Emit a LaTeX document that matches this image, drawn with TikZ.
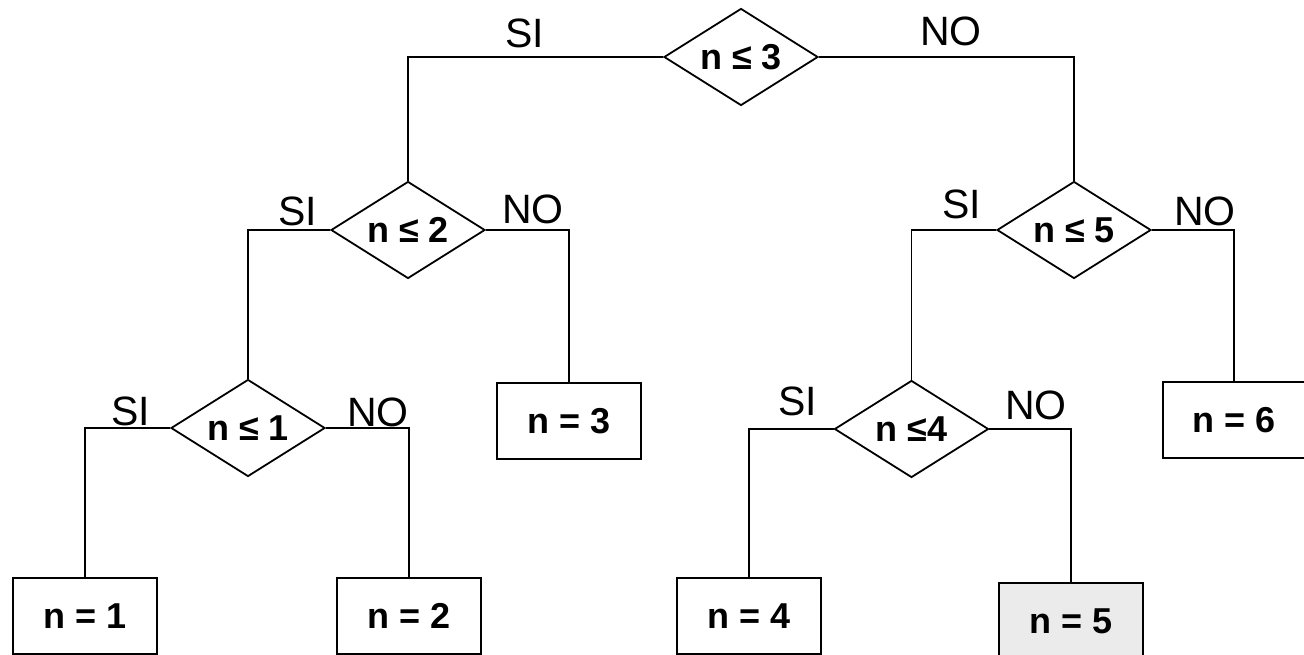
\documentclass[tikz,border=0pt]{standalone}
\usepackage{fontspec}
\setmainfont{Liberation Sans}
\usetikzlibrary{shapes.geometric}
\definecolor{pickfill}{HTML}{EBEBEB}
\tikzset{
  test/.style={shape=diamond, draw, line width=1.8pt, inner sep=0pt,
    aspect=1.6, minimum width=154pt, minimum height=97pt,
    font=\fontsize{36}{40}\selectfont\bfseries},
  result/.style={shape=rectangle, draw, line width=2.3pt, inner sep=0pt,
    minimum width=144pt, minimum height=76pt,
    font=\fontsize{36}{40}\selectfont\bfseries},
  branch/.style={line width=1.8pt},
  answer/.style={inner sep=0pt, font=\fontsize{41}{44}\selectfont}
}
\begin{document}
\begin{tikzpicture}[x=1pt, y=-1pt]
\useasboundingbox (0,0) rectangle (1304,655);

% decision nodes
\node[test] (d3) at (741,57)    {n ≤ 3};
\node[test] (d2) at (408,230)   {n ≤ 2};
\node[test] (d1) at (248,428)   {n ≤ 1};
\node[test] (d5) at (1074,230)  {n ≤ 5};
\node[test] (d4) at (911.5,429) {n ≤4};

% outcomes
\node[result] (b1) at (85,616)    {n = 1};
\node[result] (b2) at (409,616)   {n = 2};
\node[result] (b3) at (569,421)   {n = 3};
\node[result] (b4) at (749,616)   {n = 4};
\node[result, fill=pickfill] (b5) at (1071,621) {n = 5};
\node[result, minimum width=142pt] (b6) at (1234,420) {n = 6};

% branches
\draw[branch] (d3.west) -| (d2.north);
\draw[branch] (d3.east) -| (d5.north);
\draw[branch] (d2.west) -| (d1.north);
\draw[branch] (d2.east) -| (b3.north);
\draw[branch] (d1.west) -| (b1.north);
\draw[branch] (d1.east) -| (b2.north);
\draw[branch] (d5.west) -| (d4.north);
\draw[branch] (d5.east) -| (b6.north);
\draw[branch] (d4.west) -| (b4.north);
\draw[branch] (d4.east) -| (b5.north);

% branch labels
\node[answer] (l3s) at (525,33)  {SI};
\node[answer] (l3n) at (951,31)  {NO};
\node[answer] (l2s) at (298,211) {SI};
\node[answer] (l2n) at (533,209) {NO};
\node[answer] (l1s) at (131,411) {SI};
\node[answer] (l1n) at (378,412) {NO};
\node[answer] (l5s) at (962,204) {SI};
\node[answer] (l5n) at (1205,211) {NO};
\node[answer] (l4s) at (798,401) {SI};
\node[answer] (l4n) at (1036,405) {NO};
\end{tikzpicture}
\end{document}
